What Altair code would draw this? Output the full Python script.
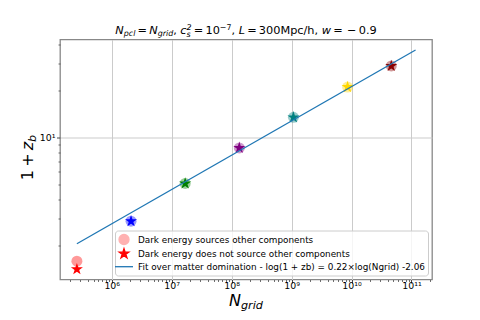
import altair as alt
import pandas as pd

# ---------------- data ----------------
n_grid = [262144, 2097152, 16777216, 134217728, 1073741824, 8589934592, 4.6e10]
z_sourced = [1.59, 2.88, 5.05, 8.57, 13.5, 21.2, 29.0]       # circles: 1 + z_b
z_not_sourced = [1.41, 2.88, 5.05, 8.57, 13.5, 21.2, 29.0]   # stars: 1 + z_b
run_colors = ["red", "blue", "green", "purple", "teal", "gold", "darkred"]
fit_n = [2.62e5, 1.17e11]
fit_z = [2.06, 36.8]
x_major = [1e6, 1e7, 1e8, 1e9, 1e10, 1e11]
x_labels = ["10⁶", "10⁷", "10⁸", "10⁹", "10¹⁰", "10¹¹"]
y_major = [10.0]
y_labels = ["10¹"]
legend_labels = [
    "Dark energy sources other components",
    "Dark energy does not source other components",
    "Fit over matter domination - log(1 + zb) = 0.22×log(Ngrid) -2.06",
]

X_DOMAIN = [1.37e5, 2.2e11]
Y_DOMAIN = [1.21, 43.0]
W_PLOT, H_PLOT = 372, 240
FONT = "DejaVu Sans"

STAR = ("M0,-1L0.2245,-0.309L0.9511,-0.309L0.3633,0.118L0.5878,0.809L0,0.382"
        "L-0.5878,0.809L-0.3633,0.118L-0.9511,-0.309L-0.2245,-0.309Z")
LINE = "M-1.8,0L1.8,0"

# ---------------- axes ----------------
x_minor = [k * 10 ** d for d in range(5, 12) for k in range(2, 10)
           if X_DOMAIN[0] <= k * 10 ** d <= X_DOMAIN[1]]
y_minor = [k * 10 ** d for d in range(0, 2) for k in range(2, 10)
           if Y_DOMAIN[0] <= k * 10 ** d <= Y_DOMAIN[1]]
x_values = sorted(x_major + x_minor)
y_values = sorted(set(y_major + y_minor))

MAJOR = "abs(log(datum.value)/LN10 - round(log(datum.value)/LN10)) < 0.001"


def label_expr(vals, labels):
    expr = "''"
    for v, l in reversed(list(zip(vals, labels))):
        expr = f"abs(datum.value/{float(v)!r} - 1) < 1e-6 ? '{l}' : ({expr})"
    return expr


axis_common = dict(
    title=None, domain=False, grid=True, gridColor="#cbcbcb", gridWidth=1,
    gridOpacity={"condition": {"test": MAJOR, "value": 1}, "value": 0},
    tickColor="#333333",
    tickSize={"condition": {"test": MAJOR, "value": 3.5}, "value": 2},
    tickWidth={"condition": {"test": MAJOR, "value": 0.9}, "value": 0.7},
    labelFont=FONT, labelFontSize=9.4, labelColor="black",
    labelOverlap=False, labelFlush=False, labelBound=False,
)
x_axis = alt.Axis(values=x_values, labelExpr=label_expr(x_major, x_labels),
                  labelPadding=-1.5, **axis_common)
y_axis = alt.Axis(values=y_values, labelExpr=label_expr(y_major, y_labels),
                  labelPadding=1.5, **axis_common)
xscale = alt.Scale(type="log", domain=X_DOMAIN, nice=False)
yscale = alt.Scale(type="log", domain=Y_DOMAIN, nice=False)


def X(field):
    return alt.X(f"{field}:Q", scale=xscale, axis=x_axis)


def Y(field):
    return alt.Y(f"{field}:Q", scale=yscale, axis=y_axis)


run_color = alt.Color("run:N", scale=alt.Scale(domain=[str(n) for n in n_grid], range=run_colors),
                      legend=None)

df_c = pd.DataFrame({"N": n_grid, "z": z_sourced, "run": [str(n) for n in n_grid]})
df_s = pd.DataFrame({"N": n_grid, "z": z_not_sourced, "run": [str(n) for n in n_grid]})
df_fit = pd.DataFrame({"N": fit_n, "z": fit_z})

circles = alt.Chart(df_c).mark_point(filled=True, shape="circle", size=121, opacity=0.4).encode(
    x=X("N"), y=Y("z"), color=run_color)
stars = alt.Chart(df_s).mark_point(filled=True, shape=STAR, size=160, opacity=1).encode(
    x=X("N"), y=Y("z"), color=run_color)
fit = alt.Chart(df_fit).mark_line(color="#1f77b4", strokeWidth=1.3).encode(x=X("N"), y=Y("z"))

# ---------------- legend (built from an invisible, clipped layer) ----------------
leg = alt.Legend(title=None, orient="bottom-right", offset=4, padding=3, labelOffset=8,
                 rowPadding=-1.8, labelFontSize=8.85, labelFont=FONT, labelColor="black",
                 labelLimit=600, strokeColor="#cccccc", fillColor="rgba(255,255,255,0.8)",
                 cornerRadius=3, symbolStrokeWidth=1.3, symbolSize=100)
df_leg = pd.DataFrame({"label": legend_labels})
legend_layer = alt.Chart(df_leg).mark_point(filled=True, clip=True, opacity=1).encode(
    x=alt.value(-300), y=alt.value(-300),
    fill=alt.Fill("label:N", scale=alt.Scale(domain=legend_labels, range=["red", "red", "#1f77b4"]), legend=leg),
    stroke=alt.Stroke("label:N", scale=alt.Scale(domain=legend_labels, range=["red", "red", "#1f77b4"]), legend=leg),
    shape=alt.Shape("label:N", scale=alt.Scale(domain=legend_labels, range=["circle", STAR, LINE]), legend=leg),
    # point scale: entries get 0.3, 1.0 and 1.7 (clamped to 1 when drawn)
    opacity=alt.Opacity("label:N", scale=alt.Scale(domain=legend_labels, range=[0.3, 1.7]), legend=leg),
)

# ---------------- math-like text (title, axis titles) ----------------
EM = {'0': .6362, '1': .6362, '2': .6362, '3': .6362, '4': .6362, '5': .6362, '6': .6362,
      '7': .6362, '8': .6362, '9': .6362, ' ': .3179, ',': .3179, '.': .3179, '/': .3369,
      '=': .8379, '+': .8379, '−': .8379, 'L': .5571, 'M': .8628, 'N': .7480, 'b': .6348,
      'c': .5498, 'd': .6348, 'g': .6348, 'h': .6338, 'i': .2778, 'l': .2778, 'p': .6348,
      'r': .4111, 's': .5210, 'w': .8179, 'z': .5229}
SHRINK = 0.7


def adv(s, size):
    return sum(EM.get(c, 0.6) for c in s) * size


def layout(runs, F):
    pieces, pos = [], 0.0
    for r in runs:
        kind = r[0]
        if kind == "gap":
            pos += 0.195 * F
        elif kind == "t":
            pieces.append((r[1], pos, 0.0, F, r[2]))
            pos += adv(r[1], F)
        elif kind == "sub":
            pieces.append((r[1], pos, 0.18 * F, F * SHRINK, r[2]))
            pos += adv(r[1], F * SHRINK)
        elif kind == "sup":
            pieces.append((r[1], pos, -0.40 * F, F * SHRINK, r[2]))
            pos += adv(r[1], F * SHRINK)
        elif kind == "subsup":
            pieces.append((r[1], pos, 0.25 * F, F * SHRINK, r[3]))
            pieces.append((r[2], pos, -0.40 * F, F * SHRINK, r[3]))
            pos += max(adv(r[1], F * SHRINK), adv(r[2], F * SHRINK))
    return pieces, pos


one = pd.DataFrame({"k": [0]})


def text_piece(s, x, y, size, italic, angle=0):
    kw = dict(text=s, align="left", baseline="alphabetic", fontSize=size, font=FONT, color="black")
    if italic:
        kw["fontStyle"] = "italic"
    if angle:
        kw["angle"] = angle
    return alt.Chart(one).mark_text(**kw).encode(x=alt.value(x), y=alt.value(y))


texts = []
G = ("gap",)
title_runs = [("t", "N", True), ("sub", "pcl", True), G, ("t", "=", False), G,
              ("t", "N", True), ("sub", "grid", True), ("t", ", ", False),
              ("t", "c", True), ("subsup", "s", "2", True), G, ("t", "=", False), G,
              ("t", "10", False), ("sup", "−7", False), ("t", ", ", False),
              ("t", "L", True), G, ("t", "=", False), G, ("t", "300Mpc/h, ", False),
              ("t", "w", True), G, ("t", "=", False), G, G, ("t", "−", False), G,
              ("t", "0.9", False)]
pcs, total = layout(title_runs, 11.3)
x0 = W_PLOT / 2 - total / 2
for s, along, shift, size, it in pcs:
    texts.append(text_piece(s.strip() or s, x0 + along, -5.2 + shift, size, it))

xt_runs = [("t", "N", True), ("sub", "grid", True)]
pcs, total = layout(xt_runs, 16)
x0 = W_PLOT / 2 - total / 2
for s, along, shift, size, it in pcs:
    texts.append(text_piece(s, x0 + along, 266.8 + shift, size, it))

yt_runs = [("t", "1", False), G, ("t", "+", False), G, ("t", "z", True), ("sub", "b", True)]
pcs, total = layout(yt_runs, 16)
y0 = H_PLOT / 2 + total / 2 - 2
for s, along, shift, size, it in pcs:
    texts.append(text_piece(s, -26.7 + shift, y0 - along, size, it, angle=270))

chart = alt.layer(circles, stars, fit, legend_layer, *texts).properties(
    width=W_PLOT, height=H_PLOT,
    autosize=alt.AutoSizeParams(type="none"),
    padding={"left": 52, "top": 31.5, "right": 40, "bottom": 32.5},
    background="white",
).configure_view(stroke="#888888", strokeWidth=1.3)

chart.save("out.html", embed_options={"renderer": "svg", "actions": False})
